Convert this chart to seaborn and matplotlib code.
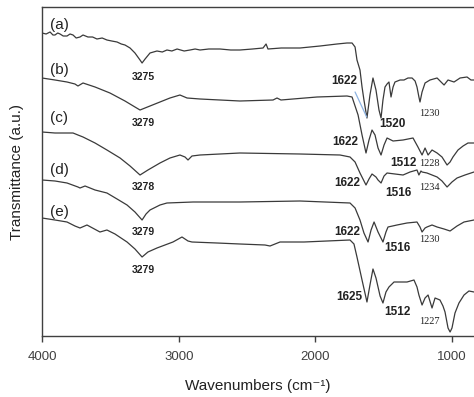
import numpy as np
import pandas as pd
import seaborn as sns
import matplotlib.pyplot as plt

# spectra: wavenumber (cm-1) and offset transmittance (a.u.)
wn_a = [4000, 3970, 3941, 3920, 3905, 3885, 3868, 3845, 3817, 3795, 3773, 3750, 3722, 3700, 3664, 3630,
        3598, 3560, 3525, 3490, 3451, 3420, 3393, 3356, 3320, 3283, 3268,
        3246, 3210, 3159, 3120, 3086, 3050, 3012, 2960, 2917, 2880, 2844, 2780, 2698, 2620, 2552, 2460,
        2383, 2361, 2347, 2250, 2113, 1966, 1842, 1769,
        1732, 1710, 1696, 1674, 1659, 1645, 1623, 1601, 1579, 1557, 1535, 1520, 1506, 1491, 1476, 1462,
        1447, 1432, 1418, 1381, 1352, 1323, 1293, 1271, 1257, 1243, 1235, 1220, 1198, 1162, 1110, 1081,
        1059, 1030, 986, 942, 891, 862, 840]
t_a = [303, 302, 304, 301, 301, 303, 302, 300, 300, 302, 301, 298, 299, 301, 299, 299,
       297, 298, 296, 295, 294, 292, 291, 288, 283, 276, 273,
       277, 283, 285, 284, 286, 285, 287, 285, 286, 287, 286, 287, 287, 286, 286, 287,
       288, 292, 287, 288, 288, 290, 292, 293,
       293, 289, 276, 266, 249, 236, 218, 241, 258, 246, 226, 218, 236, 249, 252, 254,
       239, 249, 254, 256, 256, 258, 258, 255, 249, 239, 234, 244, 253, 256, 258, 254,
       251, 256, 254, 258, 259, 256, 256]

wn_b = [4000, 3905, 3817, 3759, 3737, 3700, 3612, 3503, 3393, 3320, 3283, 3210, 3137, 3064, 2991, 2939,
        2844, 2552, 2310, 2281, 2252, 1988, 1769, 1732, 1688, 1659, 1630, 1608, 1586, 1564, 1542, 1520,
        1498, 1476, 1432, 1359, 1286, 1250, 1220, 1198, 1176, 1147, 1110, 1074, 1037, 1015, 994, 957,
        920, 884, 840]
t_b = [258, 256, 254, 252, 250, 253, 249, 243, 235, 229, 226, 230, 234, 238, 241, 238,
       237, 235, 236, 238, 236, 239, 240, 239, 221, 201, 183, 196, 206, 201, 188, 181,
       191, 198, 195, 196, 198, 189, 181, 188, 181, 186, 183, 179, 171, 174, 179, 186,
       190, 193, 193]

wn_c = [4000, 3905, 3773, 3737, 3700, 3612, 3525, 3429, 3356, 3283, 3225, 3137, 3064, 2991, 2954, 2932,
        2903, 2844, 2552, 2113, 1820, 1747, 1710, 1674, 1630, 1608, 1586, 1557, 1542, 1520, 1498, 1476,
        1418, 1359, 1308, 1257, 1243, 1228, 1220, 1184, 1147, 1110, 1074, 1037, 1001, 964, 906, 840]
t_c = [204, 203, 203, 201, 199, 193, 186, 178, 170, 161, 166, 173, 178, 181, 179, 176,
       180, 181, 183, 182, 181, 179, 174, 163, 151, 157, 162, 159, 156, 153, 160, 163,
       162, 161, 164, 166, 161, 165, 164, 163, 161, 159, 155, 149, 154, 158, 161, 164]

wn_d = [4000, 3905, 3817, 3737, 3722, 3685, 3612, 3525, 3451, 3378, 3320, 3268, 3239, 3210, 3137, 3086,
        2895, 2552, 2113, 1747, 1710, 1674, 1645, 1615, 1593, 1571, 1542, 1506, 1484, 1469, 1403, 1330,
        1257, 1235, 1220, 1198, 1184, 1147, 1110, 1059, 1015, 964, 913, 840]
t_d = [156, 155, 153, 149, 148, 150, 146, 143, 137, 131, 124, 116, 122, 126, 131, 133,
       134, 134, 135, 133, 128, 116, 103, 94, 106, 114, 104, 94, 104, 109, 111, 113,
       114, 109, 104, 108, 109, 111, 109, 107, 105, 110, 114, 116]

wn_e = [4000, 3905, 3817, 3759, 3722, 3671, 3576, 3525, 3466, 3378, 3320, 3268, 3225, 3159, 3042, 2976,
        2932, 2903, 2720, 2552, 2369, 2332, 2259, 2083, 1747, 1718, 1696, 1659, 1623, 1601, 1579, 1557,
        1527, 1506, 1484, 1462, 1425, 1330, 1279, 1257, 1243, 1220, 1198, 1176, 1147, 1125, 1089, 1067,
        1052, 1030, 1015, 1001, 979, 950, 913, 877, 840]
t_e = [118, 116, 114, 110, 108, 111, 104, 106, 102, 94, 87, 79, 84, 88, 94, 99,
       95, 94, 93, 92, 91, 90, 94, 94, 96, 92, 79, 56, 34, 51, 67, 58,
       40, 33, 44, 49, 54, 54, 56, 49, 41, 31, 38, 41, 28, 38, 36, 30,
       24, 8, 4, 8, 23, 33, 41, 45, 44]

samples = ["(a)", "(b)", "(c)", "(d)", "(e)"]
label_y = [311, 266, 218, 166, 124]

# peak labels: text and height of each
oh_text = ["3275", "3279", "3278", "3279", "3279"]
oh_y = [259, 213, 149, 104, 66]
amide1_text = ["1622", "1622", "1622", "1622", "1625"]
amide1_y = [255, 194, 153, 104, 39]
amide2_text = ["1520", "1512", "1516", "1516", "1512"]
amide2_y = [212, 173, 143, 88, 24]
amide3_text = ["1230", "1228", "1234", "1230", "1227"]
amide3_y = [223, 173, 149, 96, 14]

sns.set_theme(style="ticks")
plt.rcParams['font.family'] = ['Liberation Sans', 'DejaVu Sans']

frames = []
for name, w, t in zip(samples, [wn_a, wn_b, wn_c, wn_d, wn_e], [t_a, t_b, t_c, t_d, t_e]):
    frames.append(pd.DataFrame({"wavenumber": w, "transmittance": t, "sample": name}))
df = pd.concat(frames, ignore_index=True)

fig = plt.figure(figsize=(4.74, 3.97), dpi=100)
ax = fig.add_axes([42 / 474, 61 / 397, 1 - 42 / 474, 329 / 397])

sns.lineplot(data=df, x="wavenumber", y="transmittance", hue="sample", units="sample",
             estimator=None, sort=False, palette=["#3a3a3a"] * 5, linewidth=0.9,
             legend=False, ax=ax)

ax.set_xlim(4000, 840)
ax.set_ylim(0, 329)
ax.set_xticks([4000, 3000, 2000, 1000])
ax.set_yticks([])
ax.tick_params(axis="x", direction="out", length=4, width=1, colors="#404040",
               labelsize=9.5, pad=7)
for s in ["left", "top", "bottom"]:
    ax.spines[s].set_color("#404040")
    ax.spines[s].set_linewidth(1)
ax.spines["right"].set_visible(False)
ax.set_xlabel("Wavenumbers (cm\u207b\u00b9)", fontsize=11, color="#222222", labelpad=11)
ax.set_ylabel("Transmittance (a.u.)", fontsize=11, color="#222222", labelpad=13)

for name, y in zip(samples, label_y):
    ax.text(3875, y, name, fontsize=11, color="#222222", ha="center", va="center")

for txt, y in zip(oh_text, oh_y):
    ax.text(3262, y, txt, fontsize=7.5, fontweight="bold", color="#222222", ha="center", va="center")

a1_x = [1791, 1784, 1769, 1769, 1754]
a2_x = [1440, 1359, 1396, 1403, 1403]
for txt, x, y in zip(amide1_text, a1_x, amide1_y):
    ax.text(x, y, txt, fontsize=8.5, fontweight="bold", color="#222222", ha="center", va="center")
for txt, x, y in zip(amide2_text, a2_x, amide2_y):
    ax.text(x, y, txt, fontsize=8.5, fontweight="bold", color="#222222", ha="center", va="center")
for txt, y in zip(amide3_text, amide3_y):
    ax.text(1164, y, txt, fontsize=7.5, family=["Liberation Serif", "DejaVu Serif"],
            color="#222222", ha="center", va="center")

# leader line from the 1622 label to the first amide dip of (a)
ax.plot([1710, 1625], [244, 219], color="#8db3e2", linewidth=0.9)

fig.savefig("out.png", dpi=100)
